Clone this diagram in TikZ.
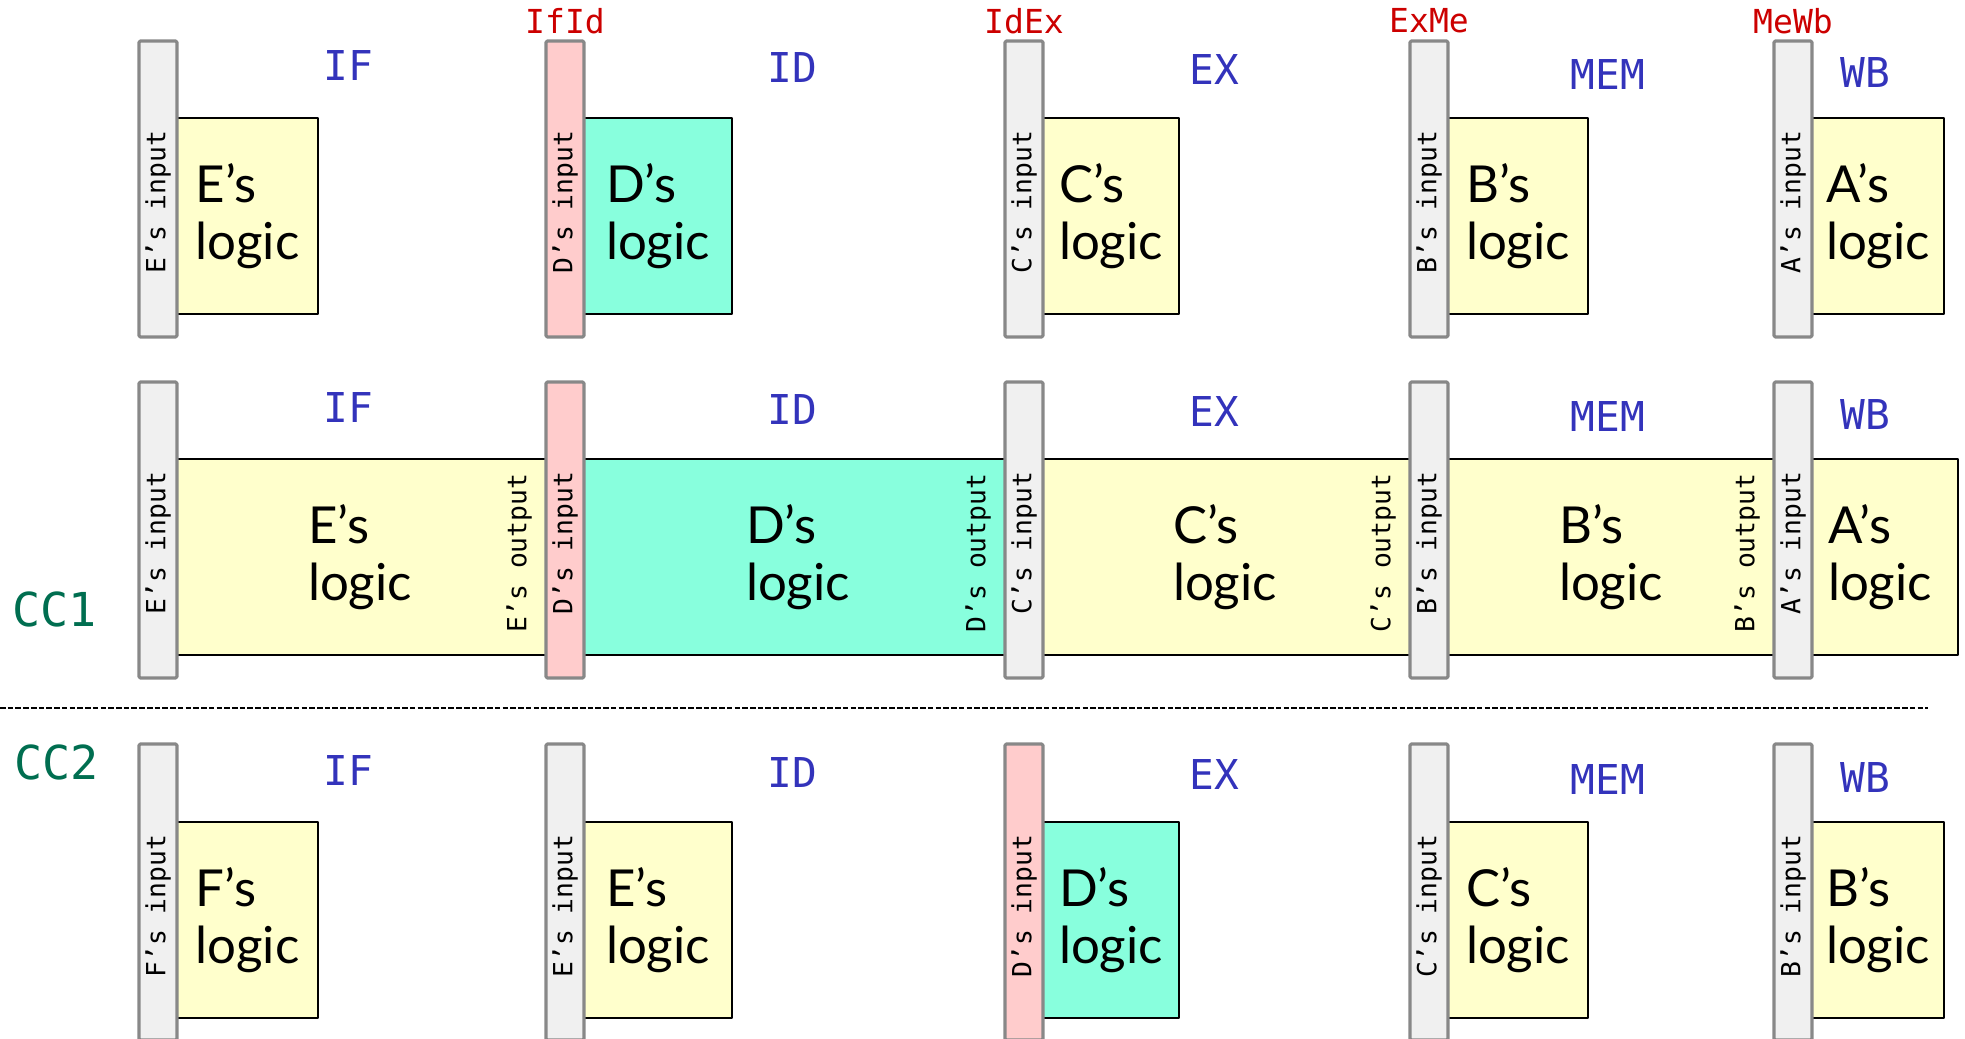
\documentclass[tikz,border=0pt]{standalone}
\usepackage{fontspec}
\setmainfont{Lato}
\newfontfamily\monofont{DejaVu Sans Mono}
\definecolor{RegGray}{HTML}{F0F0F0}
\definecolor{RegEdge}{HTML}{888888}
\definecolor{RegPink}{HTML}{FFCCCC}
\definecolor{LogicYellow}{HTML}{FFFFCC}
\definecolor{LogicCyan}{HTML}{88FFDD}
\definecolor{StageBlue}{HTML}{3333BB}
\definecolor{LatchRed}{HTML}{CC0000}
\definecolor{ClockGreen}{HTML}{006E50}
\tikzset{
  reg/.style={draw=RegEdge,line width=0.9pt,rounded corners=0.4pt},
  logic/.style={draw=black,line width=0.6pt},
  logictext/.style={font=\fontsize{14.5}{16.2}\selectfont,align=left,inner sep=0},
  regtext/.style={font=\monofont\fontsize{7.5}{9}\selectfont,rotate=90,anchor=east,inner sep=0},
  stage/.style={font=\monofont\fontsize{11.7}{14}\selectfont,text=StageBlue},
  latch/.style={font=\monofont\fontsize{9.4}{11}\selectfont,text=LatchRed},
  clock/.style={font=\monofont\fontsize{13.3}{16}\selectfont,text=ClockGreen,anchor=west,inner sep=0},
}
\begin{document}
\begin{tikzpicture}[line join=round]
\useasboundingbox (0,0) rectangle (19.65,10.38);
\clip (0,0) rectangle (19.65,10.38);

\foreach \i/\x/\r/\n/\rc/\lc in {1/1.39/3.18/E/RegGray/LogicYellow,2/5.46/7.32/D/RegPink/LogicCyan,3/10.05/11.79/C/RegGray/LogicYellow,4/14.10/15.88/B/RegGray/LogicYellow,5/17.74/19.44/A/RegGray/LogicYellow}{
  \path[logic,fill=\lc] (\x+0.19,9.20) rectangle (\r,7.24);
  \node[logictext] (topLogic\i) at ({(\x+0.38+\r)/2},8.22) {\n's\\logic};
  \draw[reg,fill=\rc] (\x,9.97) rectangle ++(0.38,-2.96);
  \node[regtext] (topReg\i) at (\x+0.19,9.08) {\n’s input};
}

\foreach \i/\a/\b/\t/\n/\lc in {1/1.58/5.65/3.60/E/LogicYellow,2/5.65/10.24/7.98/D/LogicCyan,3/10.24/14.29/12.25/C/LogicYellow,4/14.29/17.93/16.11/B/LogicYellow,5/17.93/19.58/18.80/A/LogicYellow}{
  \path[logic,fill=\lc] (\a,5.79) rectangle (\b,3.83);
  \node[logictext] (midLogic\i) at (\t,4.81) {\n's\\logic};
}
\foreach \i/\x/\n/\rc in {1/1.39/E/RegGray,2/5.46/D/RegPink,3/10.05/C/RegGray,4/14.10/B/RegGray,5/17.74/A/RegGray}{
  \draw[reg,fill=\rc] (\x,6.56) rectangle ++(0.38,-2.96);
  \node[regtext] (midReg\i) at (\x+0.19,5.67) {\n’s input};
}
\foreach \i/\x/\n in {1/5.19/E,2/9.78/D,3/13.83/C,4/17.47/B}
  \node[regtext] (midOut\i) at (\x,5.65) {\n’s output};

\foreach \i/\x/\r/\n/\rc/\lc in {1/1.39/3.18/F/RegGray/LogicYellow,2/5.46/7.32/E/RegGray/LogicYellow,3/10.05/11.79/D/RegPink/LogicCyan,4/14.10/15.88/C/RegGray/LogicYellow,5/17.74/19.44/B/RegGray/LogicYellow}{
  \path[logic,fill=\lc] (\x+0.19,2.16) rectangle (\r,0.20);
  \node[logictext] (botLogic\i) at ({(\x+0.38+\r)/2},1.18) {\n's\\logic};
  \draw[reg,fill=\rc] (\x,2.94) rectangle ++(0.38,-2.96);
  \node[regtext] (botReg\i) at (\x+0.19,2.04) {\n’s input};
}

\foreach \row/\y in {top/9.72,mid/6.30,bot/2.67}
  \foreach \x/\dy/\st in {3.48/0/IF,7.92/0.02/ID,12.14/0.04/EX,16.08/0.09/MEM,18.65/0.07/WB}
    \node[stage] (\row\st) at (\x,\y-\dy) {\st};

\foreach \x/\t in {5.65/IfId,10.24/IdEx,14.29/ExMe,17.93/MeWb}
  \node[latch] (latch\t) at (\x,10.17) {\t};

\node[clock] (cc1) at (0.12,4.29) {CC1};
\node[clock] (cc2) at (0.14,2.76) {CC2};

\coordinate (sepL) at (0,3.30);
\coordinate (sepR) at (19.28,3.30);
\draw[line width=0.4pt,dash pattern=on 1.6pt off 0.6pt] (sepL) -- (sepR);
\end{tikzpicture}
\end{document}
